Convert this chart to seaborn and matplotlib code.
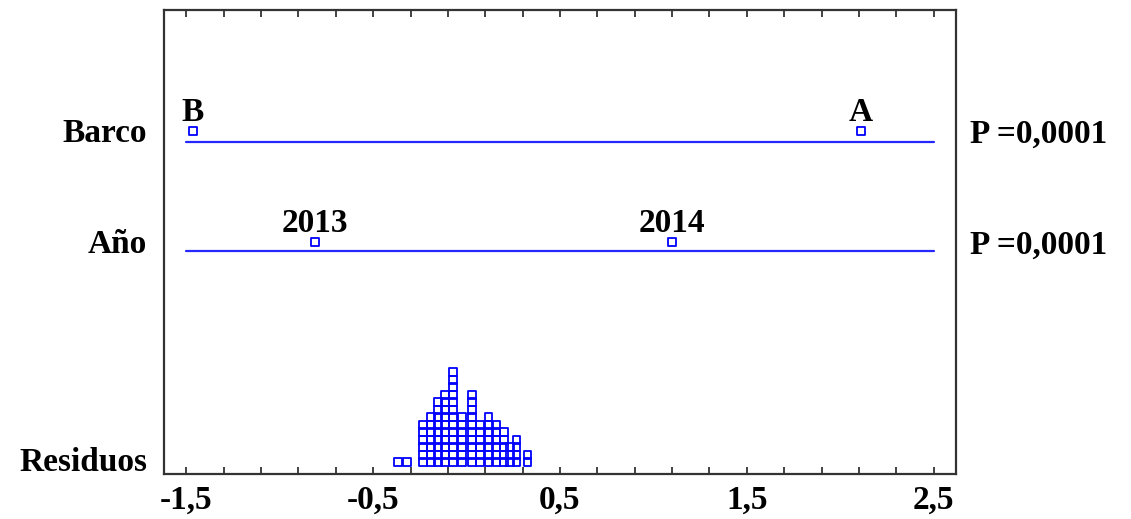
import numpy as np
import pandas as pd
import matplotlib
matplotlib.use("Agg")
import matplotlib.pyplot as plt
import seaborn as sns
from matplotlib.ticker import FixedLocator

# ---- data -------------------------------------------------------------
factors = ["Barco", "Año"]
p_values = ["P =0,0001", "P =0,0001"]

barco_levels = ["B", "A"]
barco_means = [-1.465, 2.11]

anio_levels = ["2013", "2014"]
anio_means = [-0.81, 1.10]

# residuals, grouped by value with the number of stacked observations
resid_values = [-0.368, -0.320, -0.235, -0.192, -0.152, -0.115, -0.072, -0.026,
                0.030, 0.073, 0.118, 0.159, 0.199, 0.231, 0.268, 0.327]
resid_counts = [1, 1, 6, 7, 9, 10, 13, 7, 10, 6, 7, 6, 5, 3, 4, 2]

x_ticks = [-1.5, -0.5, 0.5, 1.5, 2.5]
x_tick_labels = ["-1,5", "-0,5", "0,5", "1,5", "2,5"]

# ---- layout -----------------------------------------------------------
BLUE = "#0000ff"
LINE_BLUE = "#2626ff"
XMIN, XMAX = -1.62, 2.62
LINE_RANGE = (-1.5, 2.5)
ROW_LINE = {"Barco": 3.32, "Año": 2.23}
ROW_MARK = {"Barco": 3.43, "Año": 2.32}
RESID_BASE = 0.08
RESID_STEP = 0.075
RESID_LABEL_Y = 0.14
YMAX = 4.64

sns.set_style("white")
plt.rcParams["font.family"] = ["Liberation Serif", "DejaVu Serif"]
plt.rcParams["font.weight"] = "bold"
plt.rcParams["text.color"] = "black"
plt.rcParams["xtick.color"] = "black"
FS = 24

fig = plt.figure(figsize=(11.31, 5.19), dpi=100)
ax = fig.add_axes([164 / 1131, 45 / 519, 792 / 1131, 464 / 519])

# factor lines
lines = pd.DataFrame({
    "x": [LINE_RANGE[0], LINE_RANGE[1]] * 2,
    "y": [ROW_LINE["Barco"]] * 2 + [ROW_LINE["Año"]] * 2,
    "factor": ["Barco"] * 2 + ["Año"] * 2,
})
sns.lineplot(data=lines, x="x", y="y", units="factor", estimator=None,
             color=LINE_BLUE, linewidth=1.6, ax=ax, legend=False)

# level means
means = pd.DataFrame({
    "x": barco_means + anio_means,
    "y": [ROW_MARK["Barco"]] * 2 + [ROW_MARK["Año"]] * 2,
    "label": barco_levels + anio_levels,
})
sns.scatterplot(data=means, x="x", y="y", marker="s", s=30, linewidth=1.3,
                ax=ax, legend=False)
pc = ax.collections[-1]
pc.set_facecolor("none")
pc.set_edgecolor(BLUE)

for _, r in means.iterrows():
    ax.annotate(r["label"], (r["x"], r["y"]), xytext=(0, 7.5),
                textcoords="offset points", ha="center", va="baseline",
                fontsize=FS, fontweight="bold", color="black")

# stacked residuals
rx, ry = [], []
for v, n in zip(resid_values, resid_counts):
    for k in range(n):
        rx.append(v)
        ry.append(RESID_BASE + (k + 0.5) * RESID_STEP)
resid = pd.DataFrame({"x": rx, "y": ry})
sns.scatterplot(data=resid, x="x", y="y", marker="s", s=30, linewidth=1.3,
                ax=ax, legend=False)
pc = ax.collections[-1]
pc.set_facecolor("none")
pc.set_edgecolor(BLUE)

# row labels on the left, p-values on the right
for name in factors:
    ax.annotate(name, (0, ROW_MARK[name]), xycoords=("axes fraction", "data"),
                xytext=(-12, -2), textcoords="offset points",
                ha="right", va="center", fontsize=FS, fontweight="bold")
ax.annotate("Residuos", (0, RESID_LABEL_Y), xycoords=("axes fraction", "data"),
            xytext=(-12, -2), textcoords="offset points",
            ha="right", va="center", fontsize=FS, fontweight="bold")
for name, p in zip(factors, p_values):
    ax.annotate(p, (1, ROW_MARK[name]), xycoords=("axes fraction", "data"),
                xytext=(10, -2), textcoords="offset points",
                ha="left", va="center", fontsize=FS, fontweight="bold")

# axes
ax.set_xlim(XMIN, XMAX)
ax.set_ylim(0, YMAX)
ax.set_xlabel("")
ax.set_ylabel("")
ax.set_yticks([])
ax.xaxis.set_major_locator(FixedLocator(x_ticks))
ax.set_xticklabels(x_tick_labels, fontsize=FS, fontweight="bold")
ax.xaxis.set_minor_locator(FixedLocator(np.round(np.arange(-1.5, 2.51, 0.2), 2)))
ax.tick_params(axis="x", which="both", direction="in", length=5, width=1.2,
               top=True, bottom=True, color="#222222")
ax.tick_params(axis="x", which="major", pad=8)
ax.tick_params(axis="y", left=False, right=False)
for sp in ax.spines.values():
    sp.set_visible(True)
    sp.set_color("#333333")
    sp.set_linewidth(1.6)

fig.savefig("out.png", dpi=100)
